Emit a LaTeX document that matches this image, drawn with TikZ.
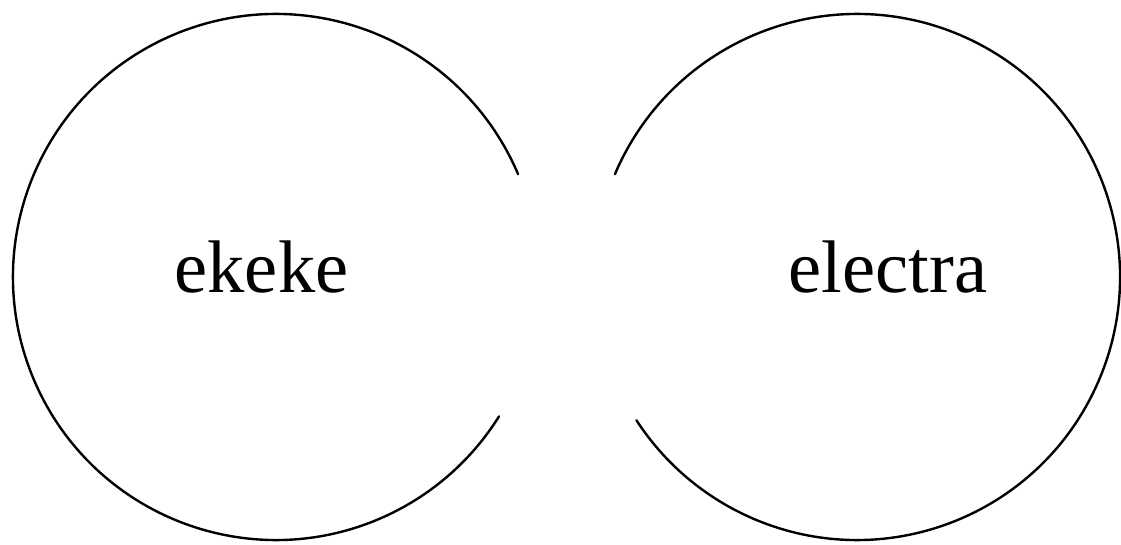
\documentclass[tikz,border=0pt]{standalone}
\usepackage{fontspec}
\setmainfont{Liberation Serif}
\begin{document}
\begin{tikzpicture}[x=1pt,y=-1pt,
  ring/.style={draw=black,line width=2.4pt,line cap=round},
  lbl/.style={anchor=base,inner sep=0pt,font=\fontsize{74.5}{80}\selectfont}]
\useasboundingbox (0,0) rectangle (1121,545);
\coordinate (cl) at (276,277);
\coordinate (cr) at (857,277);
% left ring (y axis flipped: angles negated)
\draw[ring] ([shift={(-23:263)}]cl) arc[start angle=-23,end angle=-328,radius=263];
% right ring
\draw[ring] ([shift={(-157:263)}]cr) arc[start angle=-157,end angle=147,radius=263];
\node[lbl] (ekeke) at (261.5,292) {ekeke};
\node[lbl] (electra) at (888,292) {electra};
\end{tikzpicture}
\end{document}
